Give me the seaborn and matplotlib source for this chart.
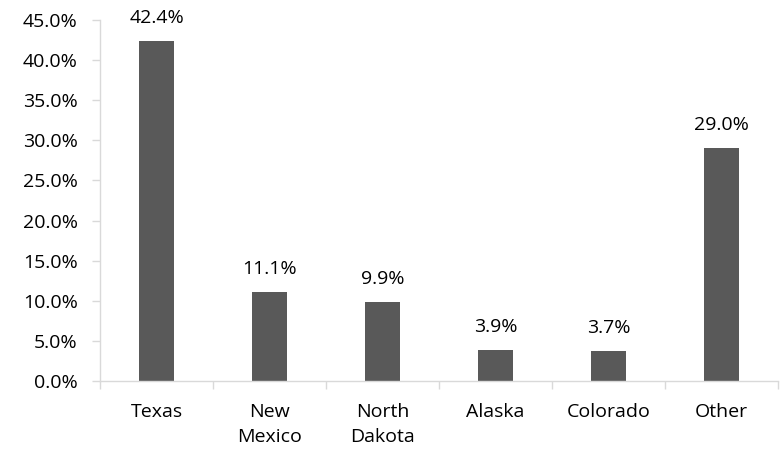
import matplotlib
matplotlib.use("Agg")
import matplotlib.pyplot as plt
import seaborn as sns
import numpy as np
import pandas as pd
from matplotlib.ticker import FuncFormatter, FixedLocator

states = ["Texas", "New\nMexico", "North\nDakota", "Alaska", "Colorado", "Other"]
shares = [42.4, 11.1, 9.9, 3.9, 3.7, 29.0]
y_ticks = [0, 5, 10, 15, 20, 25, 30, 35, 40, 45]

sns.set_theme(style="white")
plt.rcParams["font.family"] = ["Open Sans", "DejaVu Sans"]

FS = 14

df = pd.DataFrame({"state": states, "share": shares})

fig = plt.figure(figsize=(7.83, 4.51), dpi=100)
ax = fig.add_axes([100 / 783, 70 / 451, 678 / 783, 361 / 451])

sns.barplot(data=df, x="state", y="share", color="#595959", saturation=1,
            width=0.31, ax=ax, edgecolor="none")

ax.set_ylim(0, 45)
ax.set_xlim(-0.5, len(states) - 0.5)
ax.yaxis.set_major_locator(FixedLocator(y_ticks))
ax.yaxis.set_major_formatter(FuncFormatter(lambda v, p: f"{v:.1f}%"))

# category boundaries carry the tick marks on the x axis
ax.xaxis.set_minor_locator(FixedLocator(np.arange(-0.5, len(states), 1.0)))
ax.tick_params(axis="x", which="major", length=0, pad=16, labelsize=FS, colors="black")
ax.tick_params(axis="x", which="minor", length=6, width=1, color="#d9d9d9", bottom=True)
ax.tick_params(axis="y", which="major", length=6, width=1, color="#d9d9d9",
               left=True, labelsize=FS, colors="black", pad=10)
for lbl in ax.get_xticklabels():
    lbl.set_linespacing(1.5)

ax.set_xlabel("")
ax.set_ylabel("")

for side in ("top", "right"):
    ax.spines[side].set_visible(False)
for side in ("left", "bottom"):
    ax.spines[side].set_color("#d9d9d9")
    ax.spines[side].set_linewidth(1)

for i, v in enumerate(shares):
    ax.annotate(f"{v:.1f}%", xy=(i, v), xytext=(0, 10), textcoords="offset points",
                ha="center", va="bottom", fontsize=FS, color="black")

fig.savefig("out.png", dpi=100)
